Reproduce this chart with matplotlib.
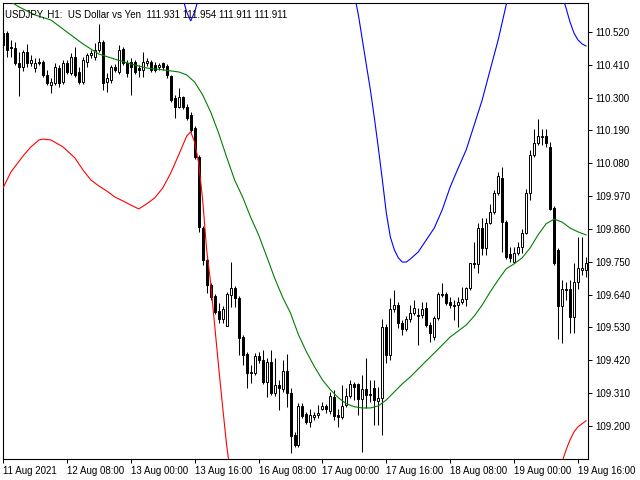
import matplotlib
matplotlib.use("Agg")
import matplotlib.pyplot as plt
import numpy as np

# USDJPY H1 candles, 11 Aug 2021 16:00 .. 19 Aug 18:00 (147 bars)
opens = [110.516, 110.516, 110.470, 110.466, 110.416, 110.403, 110.453, 110.416, 110.399, 110.419,
         110.419, 110.376, 110.342, 110.349, 110.399, 110.352, 110.416, 110.382, 110.436, 110.386,
         110.352, 110.419, 110.443, 110.436, 110.460, 110.486, 110.352, 110.359, 110.403, 110.386,
         110.463, 110.416, 110.419, 110.419, 110.399, 110.393, 110.416, 110.419, 110.409, 110.403,
         110.416, 110.406, 110.372, 110.299, 110.269, 110.302, 110.269, 110.242, 110.198, 110.101,
         109.863, 109.756, 109.672, 109.635, 109.585, 109.558, 109.535, 109.639, 109.662, 109.629,
         109.498, 109.441, 109.381, 109.377, 109.434, 109.421, 109.347, 109.414, 109.311, 109.337,
         109.324, 109.384, 109.311, 109.170, 109.136, 109.267, 109.240, 109.213, 109.230, 109.237,
         109.257, 109.267, 109.250, 109.297, 109.237, 109.230, 109.270, 109.300, 109.341, 109.341,
         109.290, 109.324, 109.307, 109.327, 109.284, 109.294, 109.531, 109.438, 109.592, 109.605,
         109.545, 109.525, 109.558, 109.578, 109.572, 109.572, 109.595, 109.538, 109.498, 109.562,
         109.639, 109.642, 109.615, 109.605, 109.605, 109.615, 109.625, 109.662, 109.746, 109.743,
         109.863, 109.796, 109.880, 109.917, 109.980, 110.031, 109.883, 109.776, 109.749, 109.779,
         109.800, 109.846, 109.980, 110.108, 110.148, 110.168, 110.171, 110.135, 109.930, 109.790,
         109.602, 109.659, 109.659, 109.565, 109.682, 109.723, 109.723]
highs = [110.527, 110.523, 110.493, 110.486, 110.453, 110.460, 110.480, 110.443, 110.433, 110.433,
         110.426, 110.393, 110.366, 110.416, 110.409, 110.426, 110.426, 110.449, 110.470, 110.403,
         110.436, 110.449, 110.460, 110.483, 110.547, 110.493, 110.382, 110.409, 110.413, 110.476,
         110.470, 110.426, 110.433, 110.426, 110.409, 110.453, 110.433, 110.426, 110.419, 110.416,
         110.419, 110.413, 110.376, 110.309, 110.332, 110.305, 110.279, 110.252, 110.205, 110.108,
         109.870, 109.763, 109.679, 109.642, 109.612, 109.602, 109.649, 109.749, 109.669, 109.635,
         109.505, 109.448, 109.404, 109.444, 109.448, 109.454, 109.428, 109.454, 109.428, 109.354,
         109.421, 109.441, 109.327, 109.180, 109.277, 109.277, 109.247, 109.257, 109.247, 109.270,
         109.280, 109.274, 109.314, 109.321, 109.257, 109.337, 109.327, 109.354, 109.347, 109.344,
         109.371, 109.428, 109.354, 109.354, 109.331, 109.558, 109.542, 109.629, 109.655, 109.615,
         109.555, 109.568, 109.605, 109.622, 109.595, 109.615, 109.615, 109.548, 109.568, 109.649,
         109.679, 109.649, 109.632, 109.622, 109.632, 109.666, 109.666, 109.746, 109.816, 109.880,
         109.897, 109.897, 109.944, 109.991, 110.051, 110.068, 109.890, 109.800, 109.800, 109.816,
         109.860, 109.994, 110.125, 110.195, 110.228, 110.195, 110.195, 110.151, 109.937, 109.796,
         109.689, 109.682, 109.689, 109.746, 109.833, 109.833, 109.766]
lows = [110.470, 110.436, 110.436, 110.409, 110.305, 110.389, 110.403, 110.406, 110.386, 110.409,
        110.369, 110.342, 110.315, 110.342, 110.336, 110.346, 110.379, 110.376, 110.369, 110.346,
        110.346, 110.403, 110.433, 110.426, 110.453, 110.326, 110.319, 110.349, 110.386, 110.379,
        110.409, 110.369, 110.309, 110.379, 110.369, 110.369, 110.406, 110.386, 110.386, 110.393,
        110.393, 110.366, 110.285, 110.232, 110.265, 110.262, 110.225, 110.185, 110.094, 109.850,
        109.739, 109.645, 109.622, 109.575, 109.545, 109.545, 109.535, 109.598, 109.598, 109.438,
        109.404, 109.327, 109.344, 109.371, 109.411, 109.341, 109.297, 109.304, 109.300, 109.254,
        109.314, 109.264, 109.110, 109.130, 109.130, 109.227, 109.207, 109.197, 109.220, 109.227,
        109.254, 109.243, 109.240, 109.220, 109.197, 109.223, 109.264, 109.294, 109.287, 109.237,
        109.113, 109.260, 109.280, 109.203, 109.203, 109.170, 109.411, 109.421, 109.582, 109.528,
        109.505, 109.518, 109.548, 109.572, 109.471, 109.562, 109.531, 109.481, 109.488, 109.555,
        109.632, 109.605, 109.595, 109.555, 109.531, 109.609, 109.602, 109.655, 109.729, 109.712,
        109.773, 109.773, 109.877, 109.910, 109.974, 109.783, 109.759, 109.749, 109.746, 109.773,
        109.779, 109.843, 109.957, 110.101, 110.141, 110.141, 110.135, 109.923, 109.739, 109.491,
        109.478, 109.622, 109.511, 109.511, 109.659, 109.706, 109.699]
closes = [110.476, 110.460, 110.466, 110.416, 110.403, 110.453, 110.416, 110.426, 110.416, 110.416,
          110.376, 110.349, 110.352, 110.403, 110.349, 110.416, 110.386, 110.436, 110.376, 110.352,
          110.426, 110.443, 110.449, 110.460, 110.486, 110.349, 110.366, 110.403, 110.393, 110.460,
          110.416, 110.382, 110.403, 110.386, 110.393, 110.419, 110.423, 110.393, 110.393, 110.409,
          110.403, 110.376, 110.292, 110.269, 110.302, 110.269, 110.232, 110.192, 110.101, 109.867,
          109.756, 109.672, 109.632, 109.582, 109.558, 109.592, 109.642, 109.662, 109.629, 109.495,
          109.438, 109.377, 109.377, 109.434, 109.421, 109.347, 109.414, 109.311, 109.337, 109.327,
          109.384, 109.311, 109.167, 109.136, 109.267, 109.233, 109.213, 109.237, 109.237, 109.243,
          109.267, 109.257, 109.300, 109.233, 109.230, 109.267, 109.300, 109.341, 109.331, 109.290,
          109.324, 109.304, 109.304, 109.287, 109.294, 109.531, 109.438, 109.592, 109.605, 109.545,
          109.525, 109.558, 109.578, 109.595, 109.568, 109.592, 109.538, 109.511, 109.562, 109.642,
          109.642, 109.612, 109.605, 109.602, 109.615, 109.625, 109.662, 109.746, 109.743, 109.863,
          109.796, 109.880, 109.917, 109.980, 110.037, 109.883, 109.766, 109.763, 109.779, 109.800,
          109.846, 109.980, 110.108, 110.148, 110.171, 110.171, 110.148, 109.927, 109.746, 109.602,
          109.659, 109.656, 109.565, 109.682, 109.729, 109.729, 109.746]

# middle line (green)
ma_idx = [0, 4, 8, 12, 16, 20, 24, 28, 32, 36, 40, 44, 46, 48, 50, 52, 54, 56, 58, 60,
          62, 64, 66, 68, 70, 72, 74, 76, 78, 80, 82, 84, 86, 88, 90, 92, 94, 96, 98, 100,
          102, 104, 106, 108, 110, 112, 114, 116, 118, 120, 122, 124, 126, 128, 130, 132, 134, 136, 138, 140,
          142, 144, 146]
ma_val = [110.637, 110.604, 110.577, 110.560, 110.520, 110.480, 110.446, 110.429, 110.413, 110.399,
          110.393, 110.386, 110.376, 110.352, 110.309, 110.252, 110.181, 110.101, 110.024, 109.967,
          109.900, 109.840, 109.769, 109.696, 109.632, 109.578, 109.505, 109.448, 109.398, 109.354,
          109.321, 109.294, 109.274, 109.264, 109.260, 109.260, 109.267, 109.287, 109.314, 109.341,
          109.364, 109.391, 109.418, 109.444, 109.471, 109.498, 109.518, 109.538, 109.568, 109.605,
          109.649, 109.689, 109.726, 109.743, 109.763, 109.796, 109.840, 109.877, 109.893, 109.883,
          109.863, 109.850, 109.840]

# lower band (red), nan = off chart
lower_idx = [0, 2, 5, 7, 9, 10, 12, 15, 18, 20, 22, 24, 26, 28, 30, 32, 34, 36, 38, 40,
             42, 44, 46, 47, 48, 49, 50, 51, 52, 53, 54, 55, 56, 57, 100,
             140, 141, 142, 143, 144, 145, 146]
lower_val = [109.997, 110.051, 110.104, 110.135, 110.158, 110.161, 110.158, 110.135, 110.098, 110.058,
             110.024, 110.004, 109.987, 109.967, 109.954, 109.940, 109.927, 109.944, 109.964, 109.997,
             110.047, 110.108, 110.171, 110.185, 110.151, 110.081, 109.957, 109.790, 109.679, 109.538,
             109.398, 109.264, 109.136, 109.036, np.nan,
             109.079, 109.119, 109.153, 109.180, 109.197, 109.207, 109.217]

# upper band (blue), nan = off chart
upper_idx = [45, 46, 47, 48, 49, 70,
             88, 89, 90, 91, 92, 93, 94, 95, 96, 97, 98, 99, 100, 101,
             102, 104, 106, 108, 110, 112, 114, 116, 118, 120, 122, 124, 126, 127, 135,
             140, 141, 142, 143, 144, 145, 146]
upper_val = [110.634, 110.587, 110.557, 110.587, 110.634, np.nan,
             110.644, 110.577, 110.493, 110.409, 110.326, 110.232, 110.131, 110.024, 109.913, 109.833,
             109.790, 109.763, 109.749, 109.749, 109.759, 109.783, 109.823, 109.863, 109.924, 110.001,
             110.064, 110.125, 110.208, 110.292, 110.393, 110.493, 110.610, 110.661, np.nan,
             110.644, 110.600, 110.553, 110.516, 110.493, 110.480, 110.473]

xtick_pos = [0, 16, 32, 48, 64, 80, 96, 112, 128, 144]
xtick_labels = ["11 Aug 2021", "12 Aug 08:00", "13 Aug 00:00", "13 Aug 16:00", "16 Aug 08:00",
                "17 Aug 00:00", "17 Aug 16:00", "18 Aug 08:00", "19 Aug 00:00", "19 Aug 16:00"]
ytick_vals = [110.520, 110.410, 110.300, 110.190, 110.080, 109.970, 109.860,
              109.750, 109.640, 109.530, 109.420, 109.310, 109.200]

title = "USDJPY, H1:  US Dollar vs Yen  111.931 111.954 111.911 111.911"

plt.rcParams["font.family"] = ["Liberation Sans", "DejaVu Sans"]

fig = plt.figure(figsize=(6.4, 4.8), dpi=100)
ax = fig.add_axes([3 / 640, 21 / 480, 585 / 640, 456 / 480])

o = np.array(opens)
c = np.array(closes)
x = np.arange(len(c))
up = c >= o
bottom = np.minimum(o, c)
height = np.maximum(np.abs(c - o), 0.0015)

ax.vlines(x, lows, highs, color="black", lw=0.75, zorder=2)
ax.bar(x, height, bottom=bottom, width=0.5, color=np.where(up, "white", "black"),
       edgecolor="black", linewidth=0.7, zorder=3)

ax.plot(ma_idx, ma_val, color="#008000", lw=0.8, zorder=4)
ax.plot(lower_idx, lower_val, color="#ff0000", lw=0.8, zorder=4)
ax.plot(upper_idx, upper_val, color="#0000ff", lw=0.8, zorder=4)

ax.set_xlim(0.25, 146.5)
ax.set_ylim(109.089, 110.617)

ax.yaxis.tick_right()
ax.set_yticks(ytick_vals)
ax.set_yticklabels(["%.3f" % v for v in ytick_vals])
ax.set_xticks(xtick_pos)
ax.set_xticklabels(xtick_labels, ha="left")
ax.tick_params(axis="both", direction="out", length=3, width=0.7, labelsize=7, pad=2, colors="black")
for s in ax.spines.values():
    s.set_linewidth(0.8)
    s.set_color("black")

ax.text(0.004, 0.985, title, transform=ax.transAxes, fontsize=7, ha="left", va="top", zorder=6)

fig.savefig("out.png", dpi=100)
